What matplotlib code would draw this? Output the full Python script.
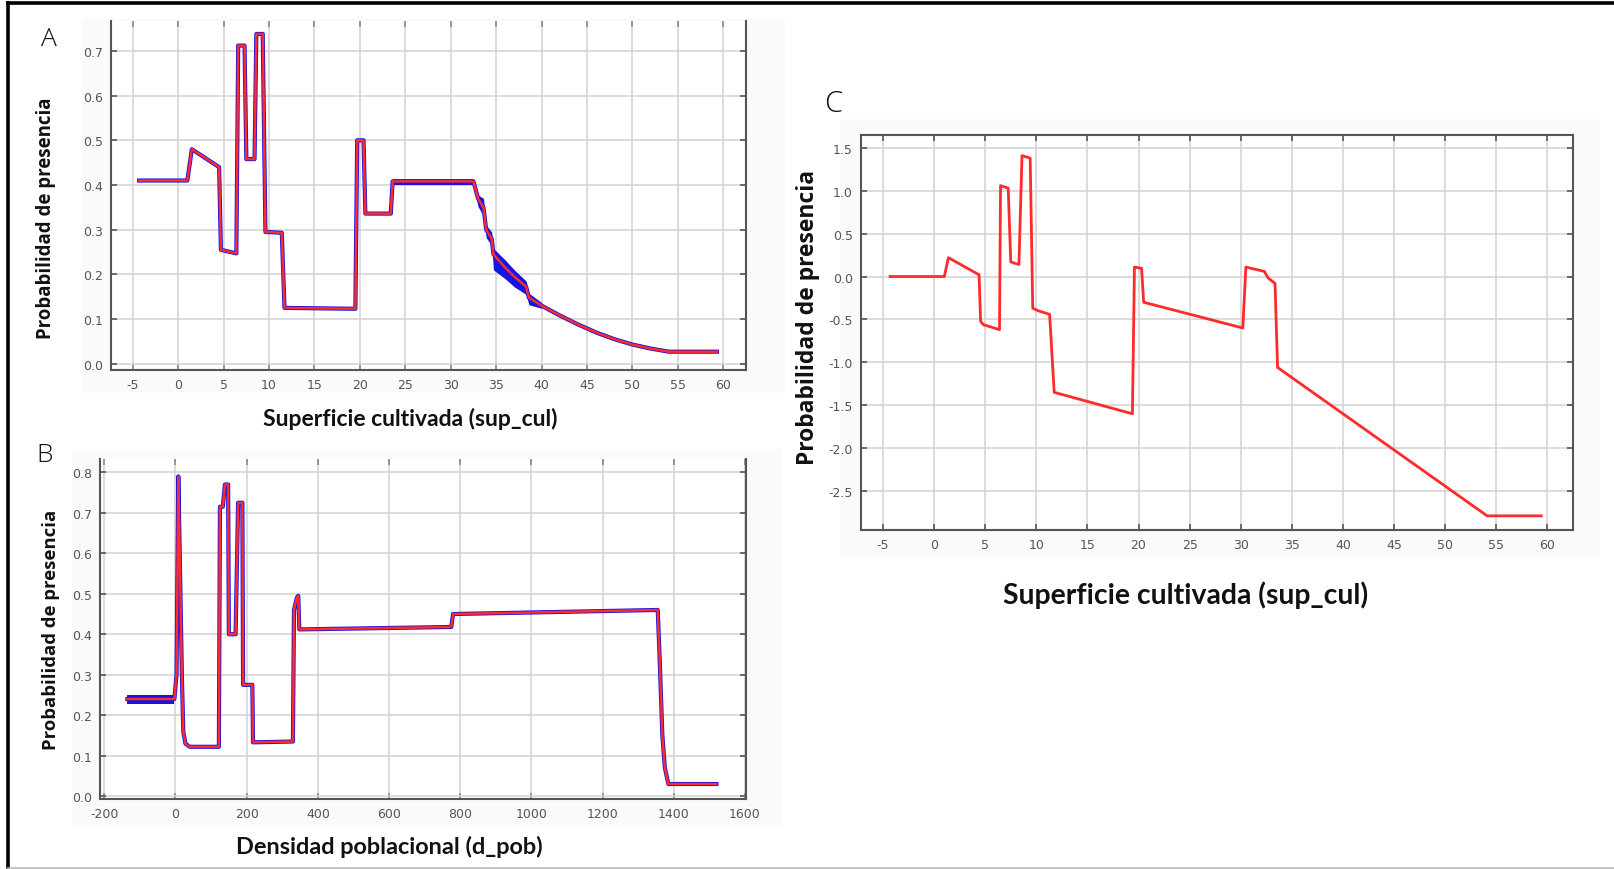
import matplotlib
matplotlib.use("Agg")
import matplotlib.pyplot as plt
from matplotlib.patches import Rectangle
from matplotlib.lines import Line2D

# ---------------- data ----------------
# Panel A: Superficie cultivada (sup_cul) -> probabilidad
a_x = [-4.3, 1.0, 1.5, 4.5, 4.7, 6.4, 6.6, 7.3, 7.5, 8.4, 8.6, 9.3, 9.6, 11.4, 11.7,
       19.5, 19.7, 20.4, 20.6, 23.4, 23.6, 32.5, 33.0, 33.6, 33.9, 34.5, 34.7, 36.0,
       37.0, 38.3, 38.6, 40.0, 42.0, 44.0, 46.0, 48.0, 50.0, 52.0, 54.0, 59.3]
a_y = [0.41, 0.41, 0.48, 0.44, 0.255, 0.247, 0.712, 0.712, 0.458, 0.458, 0.738, 0.738,
       0.295, 0.293, 0.125, 0.123, 0.50, 0.50, 0.336, 0.336, 0.408, 0.408, 0.37, 0.35,
       0.30, 0.28, 0.245, 0.215, 0.195, 0.172, 0.148, 0.13, 0.108, 0.088, 0.07, 0.055,
       0.043, 0.034, 0.027, 0.027]
a_band_x = [23.6, 32.5, 33.0, 33.6, 33.9, 34.5, 34.7, 36.0, 37.0, 38.3, 38.6, 40.0]
a_band_lo = [0.401, 0.401, 0.352, 0.33, 0.282, 0.265, 0.21, 0.19, 0.172, 0.155, 0.132, 0.124]
a_band_hi = [0.414, 0.414, 0.378, 0.37, 0.31, 0.295, 0.258, 0.232, 0.21, 0.185, 0.158, 0.137]

# Panel B: Densidad poblacional (d_pob) -> probabilidad
b_x = [-135, -3, 3, 8, 12, 18, 22, 28, 40, 122, 125, 133, 139, 148, 150, 169, 176, 188,
       190, 216, 218, 330, 333, 341, 345, 348, 775, 780, 1355, 1360, 1368, 1375, 1385, 1520]
b_y = [0.24, 0.24, 0.30, 0.79, 0.60, 0.30, 0.16, 0.13, 0.122, 0.122, 0.715, 0.715, 0.77,
       0.77, 0.40, 0.40, 0.725, 0.725, 0.275, 0.275, 0.133, 0.135, 0.46, 0.49, 0.495,
       0.412, 0.418, 0.45, 0.46, 0.35, 0.15, 0.07, 0.03, 0.03]
b_band_x = [-135, -3]
b_band_lo = [0.228, 0.228]
b_band_hi = [0.250, 0.250]

# Panel C: Superficie cultivada (sup_cul) -> respuesta
c_x = [-4.3, 1.0, 1.4, 4.4, 4.55, 4.8, 6.4, 6.5, 7.25, 7.5, 8.3, 8.6, 9.4, 9.65, 10.2,
       11.3, 11.75, 19.4, 19.6, 20.3, 20.5, 30.2, 30.5, 32.3, 32.7, 33.35, 33.6, 54.1, 59.4]
c_y = [0.0, 0.0, 0.22, 0.02, -0.52, -0.56, -0.62, 1.06, 1.03, 0.17, 0.14, 1.41, 1.38,
       -0.37, -0.40, -0.44, -1.35, -1.60, 0.11, 0.095, -0.30, -0.60, 0.11, 0.06, -0.02,
       -0.08, -1.06, -2.79, -2.79]

a_xticks = list(range(-5, 61, 5))
a_yticks = [0.0, 0.1, 0.2, 0.3, 0.4, 0.5, 0.6, 0.7]
b_xticks = list(range(-200, 1601, 200))
b_yticks = [0.0, 0.1, 0.2, 0.3, 0.4, 0.5, 0.6, 0.7, 0.8]
c_xticks = list(range(-5, 61, 5))
c_yticks = [-2.5, -2.0, -1.5, -1.0, -0.5, 0.0, 0.5, 1.0, 1.5]

ylabel = "Probabilidad de presencia"
xlabel_sup = "Superficie cultivada (sup_cul)"
xlabel_pob = "Densidad poblacional (d_pob)"

# ---------------- figure ----------------
W, H = 1614, 870
fig = plt.figure(figsize=(W / 100, H / 100), dpi=100)
fig.patch.set_facecolor("white")

def fx(px):
    return px / W

def fy(py):
    return 1 - py / H

# very light grey panels behind the original exported plots
for (x0, y0, x1, y1) in [(82, 20, 785, 394), (72, 450, 782, 828), (840, 120, 1600, 560)]:
    fig.patches.append(Rectangle((fx(x0), fy(y1)), fx(x1 - x0), (y1 - y0) / H,
                                 transform=fig.transFigure, facecolor="#fafafa",
                                 edgecolor="none", zorder=-10))

BLUE = "#1414e6"
RED = "#ff2a2a"
TICK_COLOR = "#555555"


def style(ax, xlim, ylim, xticks, yticks, top_spine):
    ax.set_zorder(5)
    ax.set_facecolor("white")
    ax.set_xlim(*xlim)
    ax.set_ylim(*ylim)
    ax.set_xticks(xticks)
    ax.set_yticks(yticks)
    ax.set_xticklabels([str(t) for t in xticks])
    ax.set_yticklabels([f"{t:.1f}" for t in yticks])
    ax.grid(True, color="#d2d2d2", linewidth=1.1)
    ax.set_axisbelow(True)
    ax.tick_params(direction="in", length=4, width=1.2, color="#555555",
                   labelsize=9, labelcolor=TICK_COLOR, top=True, right=True,
                   pad=6)
    for s in ["left", "bottom", "right"]:
        ax.spines[s].set_color("#555555")
        ax.spines[s].set_linewidth(1.5)
    if top_spine:
        ax.spines["top"].set_color("#555555")
        ax.spines["top"].set_linewidth(1.5)
    else:
        ax.spines["top"].set_visible(False)
        ax.tick_params(axis="x", which="both", top=True, color="#888888")


def axes_px(left, top, right, bottom):
    return fig.add_axes([fx(left), fy(bottom), fx(right - left), (bottom - top) / H])


# Panel A
axA = axes_px(111, 22, 746, 371)
style(axA, (-7.4, 62.5), (-0.014, 0.767), a_xticks, a_yticks, False)
axA.fill_between(a_band_x, a_band_lo, a_band_hi, color=BLUE, linewidth=0, zorder=2)
axA.plot(a_x, a_y, color=BLUE, linewidth=3.0, zorder=2)
axA.plot(a_x, a_y, color=RED, linewidth=1.8, zorder=3)

# Panel B
axB = axes_px(100, 460, 746, 800)
style(axB, (-212, 1603), (-0.007, 0.833), b_xticks, b_yticks, False)
axB.fill_between(b_band_x, b_band_lo, b_band_hi, color=BLUE, linewidth=0, zorder=2)
axB.plot(b_x, b_y, color=BLUE, linewidth=3.0, zorder=2)
axB.plot(b_x, b_y, color=RED, linewidth=1.8, zorder=3)

# Panel C
axC = axes_px(861, 136, 1573, 531)
style(axC, (-7.15, 62.5), (-2.955, 1.65), c_xticks, c_yticks, True)
axC.plot(c_x, c_y, color=RED, linewidth=2.0, zorder=3)

# labels
ylab_kw = dict(fontfamily=["Open Sans", "DejaVu Sans"], fontweight="bold",
               rotation=90, ha="center", va="center", color="#111111")
xlab_kw = dict(fontfamily=["Lato", "DejaVu Sans"], fontweight="bold",
               ha="center", va="center", color="#111111")
letter_kw = dict(fontfamily=["Open Sans", "DejaVu Sans"], fontweight="light",
                 ha="center", va="center", color="#111111")

fig.text(fx(46), fy(218), ylabel, fontsize=13.4, **ylab_kw)
fig.text(fx(51), fy(630), ylabel, fontsize=13.3, **ylab_kw)
fig.text(fx(808), fy(317), ylabel, fontsize=16.5, **ylab_kw)

fig.text(fx(410), fy(419), xlabel_sup, fontsize=16.5, **xlab_kw)
fig.text(fx(389), fy(847), xlabel_pob, fontsize=16.9, **xlab_kw)
fig.text(fx(1186), fy(595), xlabel_sup, fontsize=20.4, **xlab_kw)

fig.text(fx(49), fy(39), "A", fontsize=19, **letter_kw)
fig.text(fx(45), fy(456), "B", fontsize=19, **letter_kw)
fig.text(fx(833), fy(104), "C", fontsize=21, **letter_kw)

# outer frame: thick black top and left, thin grey bottom
fig.lines.append(Line2D([fx(8), 1], [fy(4), fy(4)], transform=fig.transFigure,
                        color="black", linewidth=2.6))
fig.lines.append(Line2D([fx(8), fx(8)], [fy(4), fy(868)], transform=fig.transFigure,
                        color="black", linewidth=2.6))
fig.lines.append(Line2D([fx(8), 1], [fy(868.5), fy(868.5)], transform=fig.transFigure,
                        color="#bbbbbb", linewidth=1.2))

fig.savefig("out.png", dpi=100)
